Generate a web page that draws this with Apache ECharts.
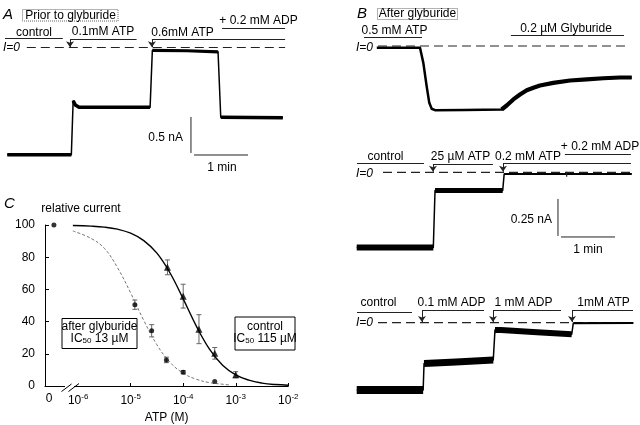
<!DOCTYPE html>
<html><head><meta charset="utf-8">
<script src="https://cdn.jsdelivr.net/npm/echarts@6/dist/echarts.min.js"></script>
<style>html,body{margin:0;padding:0;background:#fff}#c{width:640px;height:425px}</style>
</head><body><div id="c"></div>
<script>
// ---------- DATA ----------
// Panel C: dose-response (x = log10 [ATP] in M; "0" ATP plotted at the axis break)
const ctrlLogConc = [-4.3, -4.0, -3.7, -3.4, -3.0];
const ctrlMean    = [73.7, 55.8, 35.3, 20.3, 7.0];
const ctrlErr     = [4.6, 7.4, 9.0, 3.6, 1.9];
const glyLogConc  = [-6.46, -4.92, -4.6, -4.32, -4.0, -3.4];
const glyMean     = [100, 50.5, 34.3, 16.2, 8.6, 2.8];
const glyErr      = [0, 2.9, 3.8, 1.7, 1.0, 0];
const ctrlFitX = [-6.1, -5.75, -5.5, -5.25, -5, -4.75, -4.5, -4.25, -4, -3.75, -3.5, -3.25, -3, -2.75, -2.5, -2.25, -2];
const ctrlFitY = [99.7, 99.3, 98.7, 97.4, 94.9, 90.3, 82.5, 70.2, 54.1, 37.2, 22.9, 12.9, 6.9, 3.6, 1.8, 0.9, 0.5];
const glyFitX  = [-6.1, -5.75, -5.5, -5.25, -5, -4.75, -4.5, -4.25, -4, -3.75, -3.5, -3.25, -3.1];
const glyFitY  = [96.3, 91.6, 85.5, 73.5, 57.8, 40.7, 25.6, 14.7, 7.9, 4.2, 2.1, 1.1, 0.6];
const cTickValues = [-6.55, -6, -5, -4, -3, -2];
const cTickLabels = ['0', '10|-6', '10|-5', '10|-4', '10|-3', '10|-2'];
const cYTicks = [0, 20, 40, 60, 80, 100];

// Current traces: [time (s), current (nA)]
const aTrace  = [[0.3,-1.49],[71.5,-1.49],[73.5,-0.74],[76,-0.8],[80,-0.83],[159,-0.83],[161.5,-0.04],[200,-0.045],[234.5,-0.06],[237.5,-0.97],[306.5,-0.975]];
const b1Trace = [[22,-0.012],[70,-0.012],[73.7,-0.114],[77.4,-0.272],[80.3,-0.384],[83,-0.424],[86.7,-0.434],[120,-0.432],[160.7,-0.429],[166.3,-0.402],[173.7,-0.361],[181.1,-0.328],[188.6,-0.299],[196,-0.282],[203.3,-0.267],[218.1,-0.249],[236.7,-0.233],[255.2,-0.226],[273.7,-0.218],[292.2,-0.213],[305.2,-0.213]];
const b2Trace = [[-0.3,-0.508],[84.8,-0.508],[86.7,-0.123],[161.9,-0.123],[163.5,-0.012],[305.2,-0.012]];
const b3Trace = [[-0.3,-0.455],[73.5,-0.455],[74.5,-0.276],[110,-0.265],[151.4,-0.252],[153.3,-0.05],[160,-0.05],[200,-0.065],[238.6,-0.078],[240.3,-0.004],[307,-0.002]];

// Solution application bars: [start s, end s, level nA, arrow?]
const aBars  = [[-2.2,62,0.132,0],[70,144,0.118,1],[161,309,0.118,1],[239,309,0.271,0]];
const b1Bars = [[7.8,72.2,0.058,0],[171,296.7,0.07,0]];
const b2Bars = [[0,74.4,0.063,0],[84.4,151.1,0.056,1],[162.2,304.4,0.063,1],[231,304.4,0.124,0]];
const b3Bars = [[0,61.1,0.072,0],[72.2,141.1,0.086,1],[151.1,226.7,0.086,1],[238.9,306.7,0.086,1]];
// I=0 dashed reference spans [start s, end s]
const aZero = [22, 309], b1Zero = [23.3, 297.8], b2Zero = [28.9, 305.6], b3Zero = [23.3, 306.7];
// Scale bars [[t,I],[t,I]]
const aScaleV = [[204.4,-0.965],[204.4,-1.465]], aScaleH = [[207.8,-1.493],[267.8,-1.493]];
const b2ScaleV = [[223.3,-0.18],[223.3,-0.43]], b2ScaleH = [[226.7,-0.437],[286.7,-0.437]];
// small application mark on the B2 trace (ADP)
const b2AdpMark = [[233,0.004],[233,-0.03]];

// ---------- CHART ----------
const FF = '"Liberation Sans", Arial, sans-serif';
const chart = echarts.init(document.getElementById('c'), null, {renderer: 'canvas'});

const hidAxis = (min, max, gi) => ({type:'value', gridIndex: gi, min, max, show:false});
const grids = [
  {left: 2.5, width: 283.5, top: 25.9, height: 136.8},   // A
  {left: 352.5, width: 283.5, top: 16.4, height: 103.6}, // B1
  {left: 352.5, width: 283.5, top: 142.7, height: 118.4},// B2
  {left: 352.5, width: 283.5, top: 293.1, height: 103.6},// B3
  {left: 45, top: 225, right: 351.7, bottom: 37.7}       // C
];
const xAxes = [hidAxis(-5,310,0), hidAxis(-5,310,1), hidAxis(-5,310,2), hidAxis(-5,310,3)];
const yAxes = [hidAxis(-1.6,0.3,0), hidAxis(-0.5,0.2,1), hidAxis(-0.6,0.2,2), hidAxis(-0.5,0.2,3)];

xAxes.push({
  type:'value', gridIndex:4, min:-6.63, max:-2,
  axisLine:{show:true, lineStyle:{color:'#000', width:1}},
  axisTick:{show:true, inside:true, length:3, customValues:[-5,-4,-3,-2], lineStyle:{color:'#000'}},
  splitLine:{show:false},
  axisLabel:{customValues: cTickValues, margin:7, color:'#000', fontFamily:FF, fontSize:12,
    formatter: v => { const i = cTickValues.findIndex(c => Math.abs(c - v) < 1e-6);
      const s = cTickLabels[i] || ''; if (s.indexOf('|') < 0) return '{b|' + s + '}';
      const p = s.split('|'); return '{b|' + p[0] + '}{s|' + p[1] + '}'; },
    rich:{b:{fontSize:12, fontFamily:FF, color:'#000'}, s:{fontSize:8, fontFamily:FF, color:'#000', verticalAlign:'top', padding:[0,0,7,0]}}},
  name:'ATP (M)', nameLocation:'middle', nameGap:26, nameTextStyle:{color:'#000', fontFamily:FF, fontSize:12}
});
yAxes.push({
  type:'value', gridIndex:4, min:0, max:100, interval:20,
  axisLine:{show:true, lineStyle:{color:'#000', width:1}},
  axisTick:{show:true, inside:true, length:4, lineStyle:{color:'#000'}},
  splitLine:{show:false},
  axisLabel:{margin:10, color:'#000', fontFamily:FF, fontSize:12}
});

const series = [];
const traceLine = (data, gi, w, color) => ({type:'line', xAxisIndex:gi, yAxisIndex:gi, data, showSymbol:false, symbol:'none',
  lineStyle:{color: color || '#000', width:w, join:'round'}, silent:true, animation:false, z:3});
function addTrace(tr, gi, baseW, pieces) {
  series.push(traceLine(tr, gi, baseW));
  pieces.forEach(p => series.push(traceLine(tr.slice(p[0], p[1]), gi, p[2])));
}
addTrace(aTrace, 0, 1.5, [[0,2,3.5],[2,6,3.5],[6,9,3.2],[9,11,3.5]]);
addTrace(b1Trace, 1, 2.5, [[8,21,4.2]]);
addTrace(b2Trace, 2, 1.5, [[0,2,6],[2,4,5],[4,6,2]]);
addTrace(b3Trace, 3, 1.5, [[0,2,8],[2,5,7],[5,9,6],[9,11,2]]);
series.push(traceLine(b2AdpMark, 2, 1.2, '#222'));

function addBars(bars, zero, gi) {
  const data = [];
  bars.forEach(b => {
    data.push({coords:[[b[0], b[2]], [b[1], b[2]]], symbol:['none','none']});
    if (b[3]) data.push({coords:[[b[0], b[2]], [b[0], 0.004]], symbol:['none','arrow'], symbolSize:[6,6]});
  });
  series.push({type:'lines', coordinateSystem:'cartesian2d', xAxisIndex:gi, yAxisIndex:gi, data,
    lineStyle:{color:'#222', width:1, opacity:1}, symbolSize:6, silent:true, animation:false, z:4});
  series.push({type:'line', xAxisIndex:gi, yAxisIndex:gi, data:[[zero[0],0],[zero[1],0]], showSymbol:false, symbol:'none',
    lineStyle:{color:'#222', width:1.2, type:[9,5]}, silent:true, animation:false, z:2});
}
addBars(aBars, aZero, 0); addBars(b1Bars, b1Zero, 1); addBars(b2Bars, b2Zero, 2); addBars(b3Bars, b3Zero, 3);

[[aScaleV,0],[aScaleH,0],[b2ScaleV,2],[b2ScaleH,2]].forEach(s =>
  series.push(traceLine(s[0], s[1], 1, '#222')));

// Panel C
const errRender = (params, api) => {
  const x = api.value(0), lo = api.value(1), hi = api.value(2);
  if (hi - lo <= 0) return;
  const p1 = api.coord([x, lo]), p2 = api.coord([x, hi]);
  const st = {stroke:'#666', lineWidth:1};
  return {type:'group', children:[
    {type:'line', shape:{x1:p1[0], y1:p1[1], x2:p2[0], y2:p2[1]}, style:st},
    {type:'line', shape:{x1:p1[0]-2.5, y1:p1[1], x2:p1[0]+2.5, y2:p1[1]}, style:st},
    {type:'line', shape:{x1:p2[0]-2.5, y1:p2[1], x2:p2[0]+2.5, y2:p2[1]}, style:st}]};
};
series.push({type:'custom', xAxisIndex:4, yAxisIndex:4, renderItem:errRender, silent:true, animation:false, z:2,
  data: ctrlLogConc.map((x,i) => [x, ctrlMean[i]-ctrlErr[i], ctrlMean[i]+ctrlErr[i]])});
series.push({type:'custom', xAxisIndex:4, yAxisIndex:4, renderItem:errRender, silent:true, animation:false, z:2,
  data: glyLogConc.map((x,i) => [x, glyMean[i]-glyErr[i], glyMean[i]+glyErr[i]])});
series.push({type:'line', xAxisIndex:4, yAxisIndex:4, data: ctrlFitX.map((x,i)=>[x, ctrlFitY[i]]), smooth:0.4,
  showSymbol:false, symbol:'none', lineStyle:{color:'#000', width:1.4}, silent:true, animation:false, clip:false, z:3});
series.push({type:'line', xAxisIndex:4, yAxisIndex:4, data: glyFitX.map((x,i)=>[x, glyFitY[i]]), smooth:0.4,
  showSymbol:false, symbol:'none', lineStyle:{color:'#777', width:1, type:[3,2]}, silent:true, animation:false, clip:false, z:3});
series.push({type:'scatter', xAxisIndex:4, yAxisIndex:4, data: ctrlLogConc.map((x,i)=>[x, ctrlMean[i]]),
  symbol:'triangle', symbolSize:7, itemStyle:{color:'#000'}, silent:true, animation:false, clip:false, z:5});
series.push({type:'scatter', xAxisIndex:4, yAxisIndex:4, data: glyLogConc.map((x,i)=>[x, glyMean[i]]),
  symbol:'circle', symbolSize:5, itemStyle:{color:'#000'}, silent:true, animation:false, clip:false, z:5});

// ---------- TEXT / DECORATION ----------
function T(x, y, text, o) {
  o = o || {};
  return {type:'text', x, y, silent:true, z:10, style:{text, fill:'#000', fontFamily:FF, fontSize:o.size||12,
    fontStyle:o.italic?'italic':'normal', align:o.align||'center', verticalAlign:'middle', rich:o.rich}};
}
const box = (x,y,w,h,dotted) => ({type:'rect', silent:true, z:9, shape:{x,y,width:w,height:h},
  style:{fill:'#fff', stroke: dotted ? '#666' : '#000', lineWidth:1, lineDash: dotted ? [1,1] : null}});
const ln = (x1,y1,x2,y2) => ({type:'line', silent:true, z:11, shape:{x1,y1,x2,y2}, style:{stroke:'#000', lineWidth:1}});
const icRich = {a:{fontSize:12, fontFamily:FF, fill:'#000'}, s:{fontSize:8, fontFamily:FF, fill:'#000', verticalAlign:'bottom', padding:[5,0,0,0]}};

const graphic = [
  // A
  T(3, 15, 'A', {italic:true, size:15, align:'left'}),
  box(22.5, 9.5, 95.5, 11.5, true), T(70.5, 15.5, 'Prior to glyburide'),
  T(34, 32.5, 'control'), T(103, 32, '0.1mM ATP'), T(182.5, 32.5, '0.6mM ATP'), T(258.5, 21, '+ 0.2 mM ADP'),
  T(3, 48, 'I=0', {italic:true, align:'left'}),
  T(183, 138, '0.5 nA', {align:'right'}), T(222, 168, '1 min'),
  // B
  T(357, 14, 'B', {italic:true, size:15, align:'left'}),
  box(377.5, 8.5, 80, 11, true), T(417.5, 14, 'After glyburide'),
  T(394.5, 30.5, '0.5 mM ATP'), T(566, 29, '0.2 \u00b5M Glyburide'),
  T(356, 48, 'I=0', {italic:true, align:'left'}),
  T(385.5, 157, 'control'), T(460.5, 157, '25 \u00b5M ATP'), T(528, 157, '0.2 mM ATP'), T(600, 147, '+ 0.2 mM ADP'),
  T(356, 174, 'I=0', {italic:true, align:'left'}),
  T(552, 220, '0.25 nA', {align:'right'}), T(588, 250, '1 min'),
  T(378.5, 303, 'control'), T(451.5, 303, '0.1 mM ADP'), T(523.5, 303, '1 mM ADP'), T(603.5, 303, '1mM ATP'),
  T(356, 323, 'I=0', {italic:true, align:'left'}),
  // C
  T(4, 203.5, 'C', {italic:true, size:15, align:'left'}),
  T(81, 209, 'relative current'),
  box(62, 318.5, 75, 30, false), T(99.5, 326.5, 'after glyburide'),
  T(99.5, 338.5, '{a|IC}{s|50}{a| 13 \u00b5M}', {rich:icRich}),
  box(235, 317, 60, 33, false), T(265, 326.5, 'control'),
  T(265, 338.5, '{a|IC}{s|50}{a| 115 \u00b5M}', {rich:icRich}),
  {type:'rect', silent:true, z:10, shape:{x:65, y:385.5, width:9, height:3}, style:{fill:'#fff'}},
  ln(61.5, 391.5, 71.5, 384), ln(68.5, 391.5, 79, 383.5)
];

chart.setOption({
  animation:false, backgroundColor:'#fff',
  grid: grids, xAxis: xAxes, yAxis: yAxes, series, graphic
});
</script></body></html>
